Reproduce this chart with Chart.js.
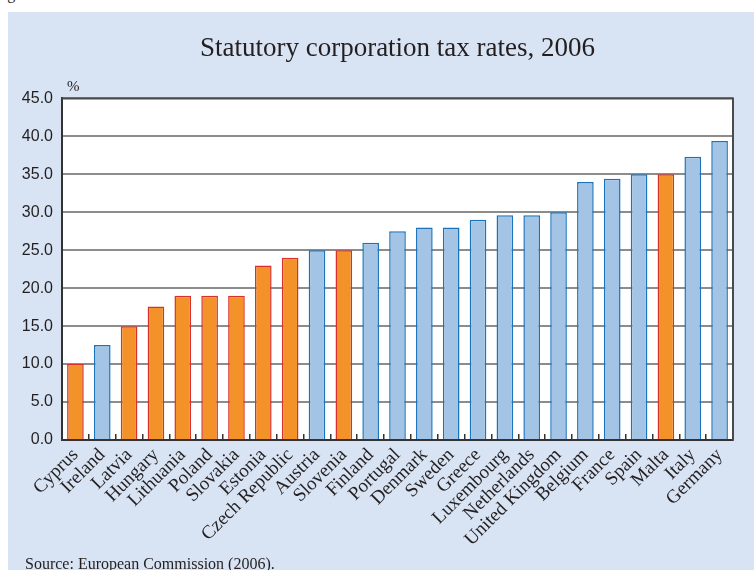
<!DOCTYPE html>
<html>
<head>
<meta charset="utf-8">
<script src="https://cdn.jsdelivr.net/npm/chart.js@4/dist/chart.umd.min.js"></script>
<style>
  html, body { margin: 0; padding: 0; background: #fff; width: 754px; height: 570px; overflow: hidden; position: relative; }
  #wrap { position: absolute; left: 8px; top: 12px; width: 746px; height: 558px; background: #d8e3f3; }
  #src { position: absolute; left: 25px; top: 555px; font: 16px "Liberation Serif", serif; color: #231f20; white-space: nowrap; }
  #fig { position: absolute; left: -6px; top: -15px; font: 16px "Liberation Serif", serif; color: #231f20; }
</style>
</head>
<body>
<div id="fig">Fig</div>
<div id="wrap"><canvas id="chart" width="746" height="558"></canvas></div>
<div id="src">Source: European Commission (2006).</div>
<script>
// statutory corporation tax rates 2006, %
const countries = ['Cyprus', 'Ireland', 'Latvia', 'Hungary', 'Lithuania', 'Poland', 'Slovakia', 'Estonia',
  'Czech Republic', 'Austria', 'Slovenia', 'Finland', 'Portugal', 'Denmark', 'Sweden', 'Greece',
  'Luxembourg', 'Netherlands', 'United Kingdom', 'Belgium', 'France', 'Spain', 'Malta', 'Italy', 'Germany'];
const taxRates = [10.0, 12.5, 15.0, 17.6, 19.0, 19.0, 19.0, 23.0, 24.0, 25.0, 25.0, 26.0, 27.5, 28.0,
  28.0, 29.0, 29.6, 29.6, 30.0, 34.0, 34.4, 35.0, 35.0, 37.3, 39.4];
// member states that joined in 2004 (drawn orange)
const newMembers = ['Cyprus', 'Latvia', 'Hungary', 'Lithuania', 'Poland', 'Slovakia', 'Estonia',
  'Czech Republic', 'Slovenia', 'Malta'];
const yTicks = [0, 5, 10, 15, 20, 25, 30, 35, 40, 45];

const isNew = countries.map(c => newMembers.includes(c));

const frame = {
  id: 'frame',
  beforeDraw(chart) {
    const { ctx, chartArea: a } = chart;
    ctx.save();
    ctx.fillStyle = '#fff';
    ctx.fillRect(a.left, a.top, a.right - a.left, a.bottom - a.top);
    ctx.restore();
  },
  afterDraw(chart) {
    const { ctx, chartArea: a } = chart;
    ctx.save();
    ctx.strokeStyle = '#4a4a4a';
    ctx.lineWidth = 2;
    ctx.beginPath();
    ctx.moveTo(a.left, a.top);
    ctx.lineTo(a.right, a.top);
    ctx.lineTo(a.right, a.bottom);
    ctx.stroke();
    ctx.fillStyle = '#231f20';
    ctx.font = '15px "Liberation Serif"';
    ctx.fillText('%', a.left + 5, a.top - 7);
    ctx.restore();
  }
};

new Chart(document.getElementById('chart'), {
  type: 'bar',
  data: {
    labels: countries,
    datasets: [{
      data: taxRates,
      backgroundColor: isNew.map(n => n ? '#f39229' : '#a3c4e4'),
      borderColor: isNew.map(n => n ? '#d9302c' : '#1b74bb'),
      borderWidth: 1.5,
      barPercentage: 0.62,
      categoryPercentage: 1
    }]
  },
  options: {
    animation: false,
    responsive: false,
    layout: { padding: { left: 0, right: 21, top: 0, bottom: 0 } },
    plugins: {
      legend: { display: false },
      tooltip: { enabled: false },
      title: {
        display: true,
        text: 'Statutory corporation tax rates, 2006',
        fullSize: false,
        color: '#231f20',
        font: { family: 'Liberation Serif', size: 27, weight: 'normal' },
        padding: { top: 21, bottom: 33 }
      }
    },
    scales: {
      x: {
        grid: { display: true, drawOnChartArea: false, offset: true, tickLength: -6, color: '#333', lineWidth: 1.5 },
        border: { display: true, color: '#333', width: 2 },
        ticks: {
          autoSkip: false, maxRotation: 45, minRotation: 45, padding: 10,
          color: '#231f20', font: { family: 'Liberation Serif', size: 19 }
        },
        afterFit: s => { s.height = 130; }
      },
      y: {
        min: 0, max: 45,
        afterBuildTicks: s => { s.ticks = yTicks.map(v => ({ value: v })); },
        grid: { color: '#8c8c8c', lineWidth: 2, drawTicks: false },
        border: { display: true, color: '#333', width: 2 },
        ticks: {
          padding: 9, color: '#231f20',
          font: { family: 'Liberation Sans', size: 16 },
          callback: v => v.toFixed(1)
        },
        afterFit: s => { s.width = 54; }
      }
    }
  },
  plugins: [frame]
});
</script>
</body>
</html>
